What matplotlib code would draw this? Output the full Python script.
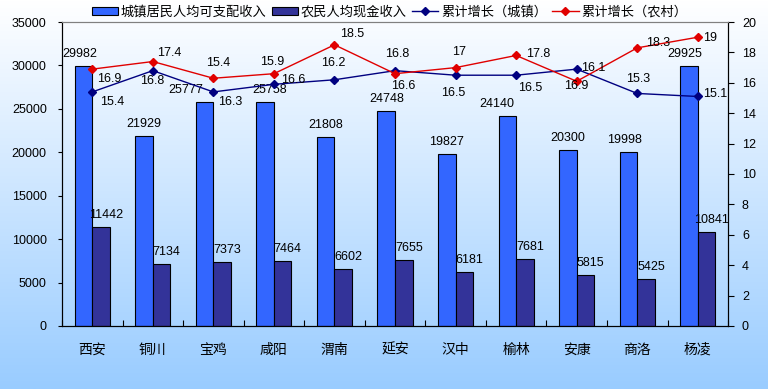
import numpy as np
import matplotlib.pyplot as plt

plt.rcParams['font.family'] = ['Liberation Sans', 'Noto Sans CJK SC']
plt.rcParams['font.size'] = 9

cities = ['西安', '铜川', '宝鸡', '咸阳', '渭南', '延安', '汉中', '榆林', '安康', '商洛', '杨凌']
urban_income = [29982, 21929, 25777, 25758, 21808, 24748, 19827, 24140, 20300, 19998, 29925]
rural_income = [11442, 7134, 7373, 7464, 6602, 7655, 6181, 7681, 5815, 5425, 10841]
urban_growth = [15.4, 16.8, 15.4, 15.9, 16.2, 16.8, 16.5, 16.5, 16.9, 15.3, 15.1]
rural_growth = [16.9, 17.4, 16.3, 16.6, 18.5, 16.6, 17.0, 17.8, 16.1, 18.3, 19.0]

# label offsets in pixels (as placed in the original chart)
urban_growth_off = [(20, -10), (-1, -10), (5, 29), (-2, 22), (-1, 17), (2, 17),
                    (-2, -18), (14, -13), (0, -17), (1, 14), (17, 2)]
rural_growth_off = [(17, -10), (16, 9), (17, -24), (19, -6), (18, 11), (8, -12),
                    (3, 16), (22, 1), (17, 13), (21, 5), (12, -1)]
urban_bar_dx = [-4, 0, -19, 4, 0, 1, 0, -11, 0, -4, -4]

fig = plt.figure(figsize=(7.68, 3.89), dpi=100)

# background gradient
bg = fig.add_axes([0, 0, 1, 1], zorder=-10)
grad = np.linspace(0, 1, 256).reshape(-1, 1)
top = np.array([1.0, 1.0, 1.0])
bottom = np.array([0x99, 0xCC, 0xFF]) / 255
img = top + (bottom - top) * grad[:, :, None]
bg.imshow(img, aspect='auto', extent=[0, 1, 0, 1], origin='upper')
bg.axis('off')

ax = fig.add_axes([0.0807, 0.162, 0.8673, 0.7814])
ax.set_facecolor('none')
x = np.arange(len(cities))
w = 0.29
b1 = ax.bar(x - w / 2, urban_income, w, color='#3366FF', edgecolor='black', linewidth=0.8,
            label='城镇居民人均可支配收入')
b2 = ax.bar(x + w / 2, rural_income, w, color='#333399', edgecolor='black', linewidth=0.8,
            label='农民人均现金收入')
ax.set_xlim(-0.5, len(cities) - 0.5)
ax.set_ylim(0, 35000)
ax.set_yticks(range(0, 35001, 5000))
ax.set_xticks(np.arange(-0.5, len(cities), 1.0))
ax.set_xticklabels([])
ax.tick_params(axis='x', direction='in', length=4)
ax.set_xticks(x, minor=True)
ax.set_xticklabels(cities, minor=True, fontsize=10)
ax.tick_params(axis='x', which='minor', length=0, pad=12)
ax.tick_params(axis='y', direction='out', length=3, pad=8, labelsize=9)
ax.spines['top'].set_color('#808080')

for i, v in enumerate(urban_income):
    ax.annotate(str(v), (x[i] - w / 2, v), xytext=(urban_bar_dx[i], 12),
                textcoords='offset pixels', ha='center', va='center', fontsize=9)
for i, v in enumerate(rural_income):
    ax.annotate(str(v), (x[i] + w / 2, v), xytext=(5, 12),
                textcoords='offset pixels', ha='center', va='center', fontsize=9)

ax2 = ax.twinx()
ax2.set_ylim(0, 20)
ax2.set_yticks(range(0, 21, 2))
ax2.tick_params(axis='y', direction='out', length=4, pad=6, labelsize=9)
ax2.spines['top'].set_color('#808080')
l1, = ax2.plot(x, urban_growth, color='#000080', marker='D', markersize=4, linewidth=1,
               label='累计增长（城镇）')
l2, = ax2.plot(x, rural_growth, color='#E00000', marker='D', markersize=4, linewidth=1,
               label='累计增长（农村）')

def fmt(v):
    return f'{v:g}'

for i, v in enumerate(urban_growth):
    ax2.annotate(fmt(v), (x[i], v), xytext=urban_growth_off[i],
                 textcoords='offset pixels', ha='center', va='center', fontsize=9)
for i, v in enumerate(rural_growth):
    ax2.annotate(fmt(v), (x[i], v), xytext=rural_growth_off[i],
                 textcoords='offset pixels', ha='center', va='center', fontsize=9)

fig.legend(handles=[b1, b2, l1, l2], loc='center', bbox_to_anchor=(0.507, 0.969), ncol=4,
           frameon=False, fontsize=9.5, handlelength=2.0, handleheight=0.5,
           handletextpad=0.2, columnspacing=0.4)

fig.savefig('out.png', dpi=100)
